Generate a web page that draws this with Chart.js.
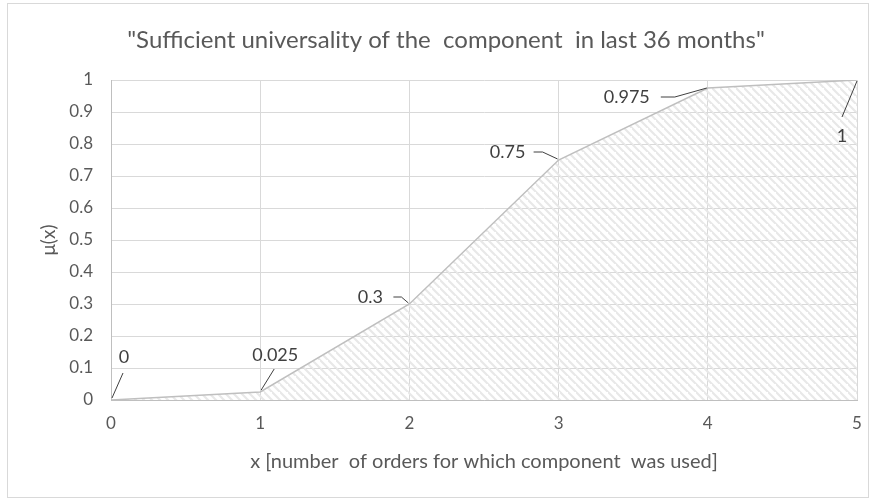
<!DOCTYPE html>
<html>
<head>
<meta charset="utf-8">
<script src="https://cdn.jsdelivr.net/npm/chart.js@4/dist/chart.umd.min.js"></script>
<style>
  html, body { margin: 0; padding: 0; background: #ffffff; }
  canvas { display: block; }
</style>
</head>
<body>
<canvas id="c" width="875" height="499"></canvas>
<script>
// ---- data ----
const xValues = [0, 1, 2, 3, 4, 5];
const muValues = [0, 0.025, 0.3, 0.75, 0.975, 1];
const pointLabels = ["0", "0.025", "0.3", "0.75", "0.975", "1"];
const chartTitle = '"Sufficient universality of the  component  in last 36 months"';
const xTitle = "x [number  of orders for which component  was used]";
const yTitle = "\u03bc(x)";

// ---- label placement (pixel offsets from the point; styling only) ----
const labelLayout = [
  { dx: 13, dy: -43, leader: [[1, -2], [12, -27]] },
  { dx: 15, dy: -37, leader: [[1, -2], [14, -23]] },
  { dx: -39, dy: -7, leader: [[-1, -1], [-8, -7], [-16, -7]] },
  { dx: -51, dy: -8, leader: [[-1, -1], [-16, -8], [-25, -8]] },
  { dx: -81, dy: 9, leader: [[-1, 0], [-33, 9], [-47, 9]] },
  { dx: -15, dy: 56, leader: [[0, 1], [-15, 37]] }
];

const tickColor = '#595959';
const fontFam = 'Lato, "Open Sans", sans-serif';

function makeHatch() {
  const s = 8;
  const p = document.createElement('canvas');
  p.width = s; p.height = s;
  const g = p.getContext('2d');
  g.strokeStyle = '#e8e8e8';
  g.lineWidth = 2.2;
  g.beginPath();
  g.moveTo(-1, -1); g.lineTo(s + 1, s + 1);
  g.moveTo(-1 - s, -1); g.lineTo(1, s + 1);
  g.moveTo(s - 1, -1 - s); g.lineTo(s * 2 + 1, s + 1);
  g.stroke();
  return document.getElementById('c').getContext('2d').createPattern(p, 'repeat');
}

const borderPlugin = {
  id: 'outerBorder',
  beforeDraw(chart) {
    const ctx = chart.ctx;
    ctx.save();
    ctx.fillStyle = '#ffffff';
    ctx.fillRect(0, 0, chart.width, chart.height);
    ctx.strokeStyle = '#d9d9d9';
    ctx.lineWidth = 1;
    ctx.strokeRect(7.5, 3.5, 861, 494);
    ctx.fillStyle = tickColor;
    ctx.font = '24px ' + fontFam;
    ctx.textAlign = 'center';
    ctx.textBaseline = 'middle';
    ctx.fillText(chartTitle, 446, 40);
    ctx.restore();
  }
};

const labelPlugin = {
  id: 'pointLabels',
  afterDatasetsDraw(chart) {
    const ctx = chart.ctx;
    const meta = chart.getDatasetMeta(0);
    ctx.save();
    meta.data.forEach((pt, i) => {
      const L = labelLayout[i];
      ctx.strokeStyle = '#404040';
      ctx.lineWidth = 1;
      ctx.beginPath();
      L.leader.forEach((q, k) => {
        const px = pt.x + q[0], py = pt.y + q[1];
        if (k === 0) ctx.moveTo(px, py); else ctx.lineTo(px, py);
      });
      ctx.stroke();
      ctx.fillStyle = '#404040';
      ctx.font = '18px ' + fontFam;
      ctx.textAlign = 'center';
      ctx.textBaseline = 'middle';
      ctx.fillText(pointLabels[i], pt.x + L.dx, pt.y + L.dy);
    });
    ctx.restore();
  }
};

new Chart(document.getElementById('c'), {
  type: 'line',
  data: {
    datasets: [{
      data: xValues.map((x, i) => ({ x: x, y: muValues[i] })),
      borderColor: '#bfbfbf',
      borderWidth: 1.5,
      pointRadius: 0,
      tension: 0,
      fill: 'origin',
      backgroundColor: makeHatch()
    }]
  },
  options: {
    responsive: false,
    animation: false,
    layout: { padding: { left: 0, right: 18, top: 80, bottom: 0 } },
    plugins: {
      legend: { display: false },
      tooltip: { enabled: false },
      title: { display: false }
    },
    scales: {
      x: {
        type: 'linear',
        min: 0, max: 5,
        ticks: { stepSize: 1, color: tickColor, font: { family: fontFam, size: 17 }, padding: 13 },
        grid: { color: '#d9d9d9', drawTicks: false },
        border: { color: '#bfbfbf' },
        title: {
          display: true, text: xTitle, color: tickColor,
          font: { family: fontFam, size: 20 },
          padding: { top: 0, bottom: 25 }
        },
        afterFit(scale) { scale.height = 99; }
      },
      y: {
        min: 0, max: 1,
        ticks: {
          stepSize: 0.1, color: tickColor, font: { family: fontFam, size: 17 }, padding: 18,
          callback: (v) => String(Math.round(v * 10) / 10)
        },
        grid: { color: '#d9d9d9', drawTicks: false },
        border: { color: '#bfbfbf' },
        title: {
          display: true, text: yTitle, color: tickColor,
          font: { family: fontFam, size: 19 },
          padding: { top: 37, bottom: 0 }
        },
        afterFit(scale) { scale.width = 111; }
      }
    }
  },
  plugins: [borderPlugin, labelPlugin]
});
</script>
</body>
</html>
